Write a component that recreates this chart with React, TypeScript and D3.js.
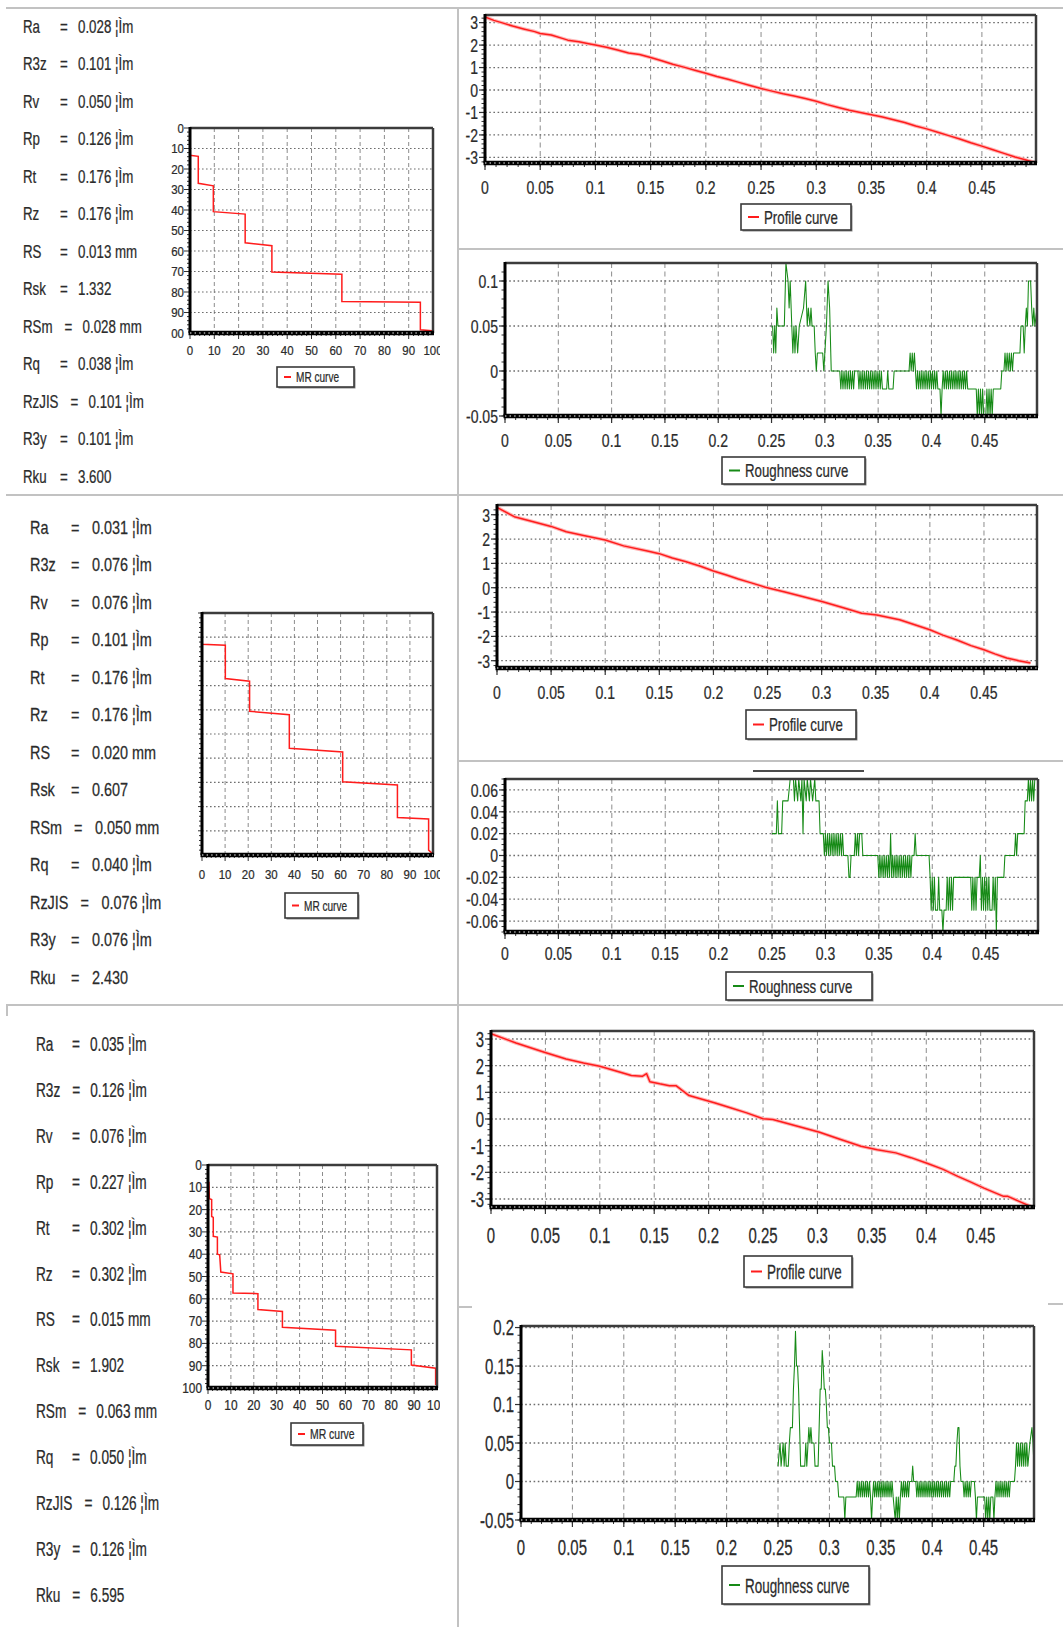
import * as d3 from "d3";

// Three roughness measurements: parameter table, MR curve, profile curve and
// roughness curve. Text is drawn condensed (the source image is stretched
// vertically), so every label goes through <Txt> with a horizontal scale.

const W = 1063;
const H = 1627;
const FONT = "'Liberation Sans', Arial, Helvetica, sans-serif";
const INK = "#2b2b2b";
const RULE = "#c2c2c2";
const RED = "#ff1c1c";
const GREEN = "#168a16";

const PARAM_NAMES = ["Ra", "R3z", "Rv", "Rp", "Rt", "Rz", "RS", "Rsk", "RSm", "Rq", "RzJIS", "R3y", "Rku"];
const PARAMS_1 = ["0.028 ¦Ìm", "0.101 ¦Ìm", "0.050 ¦Ìm", "0.126 ¦Ìm", "0.176 ¦Ìm", "0.176 ¦Ìm", "0.013 mm", "1.332", "0.028 mm", "0.038 ¦Ìm", "0.101 ¦Ìm", "0.101 ¦Ìm", "3.600"];
const PARAMS_2 = ["0.031 ¦Ìm", "0.076 ¦Ìm", "0.076 ¦Ìm", "0.101 ¦Ìm", "0.176 ¦Ìm", "0.176 ¦Ìm", "0.020 mm", "0.607", "0.050 mm", "0.040 ¦Ìm", "0.076 ¦Ìm", "0.076 ¦Ìm", "2.430"];
const PARAMS_3 = ["0.035 ¦Ìm", "0.126 ¦Ìm", "0.076 ¦Ìm", "0.227 ¦Ìm", "0.302 ¦Ìm", "0.302 ¦Ìm", "0.015 mm", "1.902", "0.063 mm", "0.050 ¦Ìm", "0.126 ¦Ìm", "0.126 ¦Ìm", "6.595"];

const X_TICKS = [0, 0.05, 0.1, 0.15, 0.2, 0.25, 0.3, 0.35, 0.4, 0.45];
const X_MAX = 0.499;
const PROFILE_TICKS = [3, 2, 1, 0, -1, -2, -3];
const ROUGH1_TICKS = [0.1, 0.05, 0, -0.05];
const ROUGH2_TICKS = [0.06, 0.04, 0.02, 0, -0.02, -0.04, -0.06];
const ROUGH3_TICKS = [0.2, 0.15, 0.1, 0.05, 0, -0.05];
const MR_TICKS = [0, 10, 20, 30, 40, 50, 60, 70, 80, 90, 100];

// MR curves: material ratio (%) vs depth (%)
const MR1_X = [0, 0, 3.4, 3.4, 9.6, 9.6, 22.7, 22.7, 33.7, 33.7, 62.5, 62.5, 94.8, 94.8, 99.6];
const MR1_Y = [0, 13.3, 13.8, 27, 28.2, 40.8, 42, 56, 57.4, 70.3, 71.3, 84.6, 85, 98.4, 98.9];
const MR2_X = [0, 0, 10.1, 10.1, 20.6, 20.6, 37.8, 37.8, 60.9, 60.9, 84.6, 84.6, 98.1, 98.1, 99.7];
const MR2_Y = [0, 12.9, 13.3, 27.1, 28.2, 40.6, 42, 55.9, 57.4, 69.7, 71.1, 84.5, 85.1, 98, 99.3];
const MR3_X = [0.4, 0.6, 1.6, 1.6, 2.3, 2.3, 4.1, 4.1, 5.1, 5.6, 10.9, 10.9, 21.8, 21.8, 32.5, 32.5, 55.7, 55.7, 88.8, 88.8, 99.4, 99.4];
const MR3_Y = [7.5, 15.1, 15.5, 23.1, 23.5, 32, 32.3, 40, 40.3, 48, 48.8, 57.4, 57.7, 64.8, 65.7, 72.8, 74.1, 81.3, 82.9, 89.7, 91.1, 98.6];

// Profile curves: [x mm, height]
const PROFILE1: [number, number][] = [
  [0, 3.25], [0.008, 3.1], [0.015, 3.0], [0.025, 2.85], [0.035, 2.72], [0.045, 2.6], [0.05, 2.52], [0.06, 2.45],
  [0.07, 2.3], [0.075, 2.22], [0.085, 2.15], [0.095, 2.05], [0.1, 2.0], [0.11, 1.9], [0.12, 1.78], [0.13, 1.65],
  [0.14, 1.58], [0.15, 1.45], [0.16, 1.3], [0.17, 1.15], [0.18, 1.02], [0.19, 0.88], [0.2, 0.75], [0.21, 0.6],
  [0.22, 0.48], [0.23, 0.34], [0.24, 0.2], [0.25, 0.07], [0.26, -0.05], [0.27, -0.17], [0.28, -0.27], [0.29, -0.38],
  [0.3, -0.5], [0.31, -0.65], [0.32, -0.78], [0.33, -0.9], [0.34, -1.0], [0.35, -1.1], [0.36, -1.2], [0.37, -1.32],
  [0.38, -1.45], [0.39, -1.6], [0.4, -1.73], [0.41, -1.88], [0.42, -2.03], [0.43, -2.18], [0.44, -2.35], [0.45, -2.5],
  [0.46, -2.66], [0.47, -2.82], [0.48, -2.98], [0.49, -3.12], [0.499, -3.25],
];
const PROFILE2: [number, number][] = [
  [0, 3.3], [0.016, 2.92], [0.03, 2.75], [0.05, 2.52], [0.064, 2.3], [0.08, 2.15], [0.1, 1.96], [0.117, 1.72],
  [0.14, 1.5], [0.15, 1.4], [0.162, 1.22], [0.174, 1.08], [0.188, 0.88], [0.2, 0.69], [0.212, 0.52], [0.223, 0.36],
  [0.235, 0.2], [0.248, 0.02], [0.266, -0.18], [0.284, -0.38], [0.301, -0.58], [0.32, -0.82], [0.337, -1.05],
  [0.351, -1.12], [0.372, -1.32], [0.386, -1.52], [0.4, -1.73], [0.412, -1.95], [0.425, -2.15], [0.438, -2.38],
  [0.45, -2.55], [0.46, -2.72], [0.471, -2.89], [0.482, -3.0], [0.493, -3.09],
];
const PROFILE3: [number, number][] = [
  [0, 3.2], [0.023, 2.85], [0.049, 2.5], [0.069, 2.25], [0.085, 2.1], [0.1, 1.98], [0.115, 1.8], [0.129, 1.63],
  [0.139, 1.6], [0.143, 1.7], [0.146, 1.4], [0.155, 1.32], [0.164, 1.25], [0.17, 1.25], [0.182, 0.88], [0.194, 0.74],
  [0.206, 0.6], [0.22, 0.42], [0.235, 0.23], [0.25, 0.01], [0.259, -0.02], [0.28, -0.25], [0.302, -0.5], [0.32, -0.75],
  [0.34, -1.02], [0.355, -1.15], [0.372, -1.27], [0.386, -1.45], [0.4, -1.65], [0.415, -1.88], [0.429, -2.15],
  [0.44, -2.35], [0.453, -2.59], [0.471, -2.9], [0.475, -2.9], [0.497, -3.3],
];

// Roughness curves: [x µm, height in 0.01 µm]
const ROUGH1: [number, number][] = [
  [250, 5], [251, 5], [252, 2], [253, 5], [254, 2], [255, 7], [256, 5], [262, 5], [263.5, 12], [265.5, 10], [266.5, 7],
  [267.5, 10], [269, 5], [270, 2], [271, 5], [272, 2], [273, 5], [274.5, 2], [276, 5], [280, 7], [282, 10], [283.5, 5],
  [284.5, 7], [286, 5], [287, 7], [288, 5], [290, 5], [291, 2], [292, 0], [293, 2], [298, 2], [299, 0], [300, 2],
  [301.5, 5], [303, 10], [304.5, 7], [306, 0], [314, 0], [315, -2], [316, 0], [317, -2], [318, 0], [319, -2], [320, 0],
  [321, -2], [322, 0], [323, -2], [324, 0], [325, -2], [326, 0], [327, -2], [328, 0], [331, 0], [332, -2], [333, 0],
  [334, -2], [335, 0], [336, -2], [337, 0], [338, -2], [339, 0], [340, -2], [341, 0], [342, -2], [343, 0], [344, -2],
  [345, 0], [346, -2], [347, 0], [348, -2], [349, 0], [350, -2], [351, 0], [352, -2], [353, 0], [354, -2], [358, -2],
  [359, 0], [360, -2], [364, -2], [365, 0], [379, 0], [380, 2], [381, 0], [382, 2], [383, 0], [384, 2], [385, 0],
  [386, -2], [387, 0], [388, -2], [389, 0], [390, -2], [391, 0], [392, -2], [393, 0], [394, -2], [395, 0], [396, -2],
  [397, 0], [398, -2], [399, 0], [400, -2], [401, 0], [402, -2], [403, 0], [404, -2], [405, 0], [406, -2], [408, -2],
  [409, -5], [410, -2], [411, 0], [412, -2], [413, 0], [414, -2], [415, 0], [416, -2], [417, 0], [418, -2], [419, 0],
  [420, -2], [421, 0], [422, -2], [423, 0], [424, -2], [425, 0], [426, -2], [427, 0], [428, -2], [429, 0], [430, -2],
  [431, 0], [432, -2], [433, 0], [434, -2], [442, -2], [443, -5], [444, -2], [445, -5], [446, -2], [447, -5], [448, -2],
  [449, -5], [451, -5], [452, -2], [453, -5], [454, -2], [455, -5], [456, -2], [457, -5], [458, -2], [465, -2], [466, 0],
  [468, 0], [469, 2], [470, 0], [471, 2], [472, 0], [473, 2], [474, 0], [475, 2], [476, 0], [477, 2], [483, 2], [484, 5],
  [486, 5], [487, 2], [488, 5], [489, 7], [490, 5], [491, 10], [493, 10], [494, 7], [495, 5], [496, 7], [497, 5], [499, 7],
];
const ROUGH2: [number, number][] = [
  [250, 2], [254, 2], [255, 5], [256, 2], [259, 2], [260, 5], [265, 5], [267, 7], [270, 7], [271, 5], [272, 7], [274, 5],
  [275, 7], [277, 5], [278, 7], [279, 2], [280, 7], [282, 5], [283, 7], [285, 5], [286, 7], [288, 5], [290, 7], [291, 5],
  [294, 5], [295, 2], [298, 2], [299, 0], [300, 2], [301, 0], [302, 2], [303, 0], [304, 2], [305, 0], [306, 2], [307, 0],
  [308, 2], [309, 0], [310, 2], [311, 0], [312, 2], [313, 0], [314, 2], [315, 0], [316, 2], [317, 0], [321, 0], [322, -2],
  [323, -2], [324, 0], [327, 0], [328, 2], [329, 0], [330, 2], [331, 0], [332, 2], [334, 2], [335, 0], [349, 0], [350, -2],
  [351, 0], [352, -2], [353, 0], [354, -2], [355, 0], [356, -2], [357, 0], [358, -2], [359, 0], [360, -2], [361, 2],
  [362, -2], [363, 0], [364, -2], [365, 0], [366, -2], [367, 0], [368, -2], [369, 0], [370, -2], [371, 0], [372, -2],
  [373, 0], [374, -2], [375, 0], [376, -2], [377, 0], [378, -2], [379, 0], [380, -2], [381, 0], [383, 0], [384, 2],
  [385, 0], [397, 0], [398, -2], [399, -5], [400, -2], [401, -5], [402, -2], [403, -5], [405, -5], [406, -2], [407, -5],
  [409, -5], [410, -7], [411, -5], [413, -5], [414, -2], [415, -5], [416, -2], [417, -5], [418, -2], [419, -5], [420, -2],
  [436, -2], [437, -5], [438, -2], [439, -5], [440, -2], [441, -5], [442, -2], [444, -2], [445, 0], [446, -5], [447, -2],
  [448, -5], [449, -2], [450, -5], [451, -2], [452, -5], [453, -2], [454, -5], [456, -5], [457, -2], [458, -5], [459, -2],
  [460, -7], [461, -2], [467, -2], [468, 0], [477, 0], [478, 2], [479, 0], [480, 2], [486, 2], [487, 5], [489, 5], [490, 7],
  [491, 5], [492, 7], [493, 5], [494, 7], [495, 5], [496, 7], [498, 7],
];
const ROUGH3: [number, number][] = [
  [250, 2], [252, 5], [253, 2], [255, 5], [256, 2], [257, 5], [258, 2], [260, 2], [261, 5], [262, 7], [264, 7], [265, 12],
  [266, 15], [267, 19.5], [268, 15], [269, 15], [270, 12], [271, 7], [272, 2], [276, 2], [277, 5], [278, 2], [280, 7],
  [281, 5], [282, 7], [283, 5], [285, 5], [286, 2], [289, 2], [290, 7], [291, 12], [292, 12], [293, 17], [294, 15],
  [295, 12], [296, 12], [297, 10], [298, 7], [299, 7], [300, 5], [302, 5], [303, 2], [305, 2], [306, 0], [308, 0],
  [309, -2], [314, -2], [315, -5], [316, -2], [326, -2], [327, 0], [328, -2], [329, 0], [330, -2], [331, 0], [332, -2],
  [333, 0], [334, -2], [335, 0], [336, -2], [337, 0], [338, -2], [339, 0], [340, -2], [341, -5], [342, -2], [343, 0],
  [344, -2], [345, 0], [346, -2], [347, 0], [348, -2], [349, 0], [350, -2], [351, 0], [352, -2], [353, 0], [354, -2],
  [355, 0], [356, -2], [357, 0], [358, -2], [359, 0], [360, -2], [361, 0], [362, -2], [364, -5], [365, -2], [366, -5],
  [367, -2], [368, -5], [369, -2], [370, 0], [371, -2], [372, 0], [373, -2], [374, 0], [375, -2], [376, 0], [377, -2],
  [378, 0], [380, 0], [381, 2], [382, 0], [384, 0], [385, -2], [386, 0], [387, -2], [388, 0], [389, -2], [390, 0],
  [391, -2], [392, 0], [393, -2], [394, 0], [395, -2], [396, 0], [397, -2], [398, 0], [399, -2], [400, 0], [401, -2],
  [402, 0], [403, -2], [404, 0], [405, -2], [406, 0], [407, -2], [408, 0], [409, -2], [410, 0], [411, -2], [412, 0],
  [413, -2], [414, 0], [415, -2], [416, 0], [417, -2], [418, 0], [421, 0], [422, 2], [423, 2], [424, 5], [425, 7],
  [426, 7], [427, 2], [428, 0], [430, 0], [431, -2], [432, 0], [433, -2], [434, 0], [435, -2], [436, 0], [437, -2],
  [438, 0], [441, 0], [442, -2], [443, -5], [444, -2], [451, -2], [452, -5], [453, -2], [454, -5], [455, -2], [456, -5],
  [457, -2], [459, -2], [460, -5], [461, -2], [462, 0], [463, -2], [464, 0], [465, -2], [466, 0], [467, -2], [468, 0],
  [469, -2], [470, 0], [471, -2], [472, 0], [473, -2], [474, 0], [475, -2], [476, 0], [480, 0], [481, 2], [482, 5],
  [483, 2], [484, 5], [485, 2], [486, 5], [487, 2], [488, 5], [489, 2], [490, 5], [491, 2], [492, 5], [493, 2], [495, 5],
  [497, 7], [498, 5], [499, 2],
];

type Box = { l: number; r: number; t: number; b: number };
type Rect4 = [number, number, number, number];

let measureCtx: CanvasRenderingContext2D | null = null;
function measure(s: string, size: number) {
  if (!measureCtx) measureCtx = document.createElement("canvas").getContext("2d");
  if (!measureCtx) return s.length * size * 0.55;
  measureCtx.font = `${size}px ${FONT}`;
  return measureCtx.measureText(s).width;
}

function Txt({ x, y, size, sx, anchor = "start", fill = INK, children }: {
  x: number; y: number; size: number; sx: number; anchor?: string; fill?: string; children: any;
}) {
  return (
    <text transform={`translate(${x},${y}) scale(${sx},1)`} fontSize={size} fontFamily={FONT}
      textAnchor={anchor as any} dy="0.36em" fill={fill} stroke={fill} strokeWidth={0.25}>
      {children}
    </text>
  );
}

function Legend({ r, color, label, fs, sx, pad = 23 }: {
  r: Rect4; color: string; label: string; fs: number; sx: number; pad?: number;
}) {
  const [l, t, rr, b] = r;
  const cy = (t + b) / 2;
  return (
    <g>
      <rect x={l + 1.5} y={t + 1.5} width={rr - l} height={b - t} fill="#8a8a8a" />
      <rect x={l} y={t} width={rr - l} height={b - t} fill="#fff" stroke="#3a3a3a" strokeWidth={1.6} />
      <line x1={l + 7} x2={l + pad - 5} y1={cy} y2={cy} stroke={color} strokeWidth={2} />
      <Txt x={l + pad} y={cy} size={fs} sx={sx}>{label}</Txt>
    </g>
  );
}

function Frame({ box }: { box: Box }) {
  return (
    <g>
      <line x1={box.l} x2={box.r} y1={box.t} y2={box.t} stroke="#3c3c3c" strokeWidth={2.5} />
      <line x1={box.r} x2={box.r} y1={box.t} y2={box.b} stroke="#3c3c3c" strokeWidth={2.5} />
      <line x1={box.l} x2={box.l} y1={box.t - 1} y2={box.b} stroke="#000" strokeWidth={3} />
      <line x1={box.l - 1.5} x2={box.r + 1} y1={box.b} y2={box.b} stroke="#000" strokeWidth={4.5} />
      <line x1={box.l} x2={box.r} y1={box.b} y2={box.b} stroke="#fff" strokeWidth={1.1} strokeDasharray="1.4,3.2" />
    </g>
  );
}

function SeriesChart(p: {
  id: string; box: Box; yDomain: [number, number]; yTicks: number[]; yMinor: number;
  data: [number, number][]; xDiv: number; yDiv: number; color: string; strokeW: number; halo?: string;
  legend: string; lg: Rect4; fs: number; sx: number; labelY: number; lgFs: number; lgSx: number;
}) {
  const { id, box, yDomain, yTicks, yMinor, data, xDiv, yDiv, color } = p;
  const x = d3.scaleLinear().domain([0, X_MAX]).range([box.l, box.r]);
  const y = d3.scaleLinear().domain(yDomain).range([box.b, box.t]);
  const path = d3.line<[number, number]>().x((d) => x(d[0] / xDiv)).y((d) => y(d[1] / yDiv))(data) ?? "";
  const minorX = d3.range(0, X_MAX, 0.01);
  const minorY = d3.range(Math.ceil(yDomain[0] / yMinor) * yMinor, yDomain[1], yMinor);
  return (
    <g>
      <clipPath id={id}>
        <rect x={box.l} y={box.t} width={box.r - box.l} height={box.b - box.t} />
      </clipPath>
      {X_TICKS.slice(1).map((v) => (
        <line key={v} x1={x(v)} x2={x(v)} y1={box.t} y2={box.b} stroke="#8c8c8c" strokeWidth={1} strokeDasharray="5,3.5" />
      ))}
      {yTicks.map((v) => (
        <line key={v} x1={box.l} x2={box.r} y1={y(v)} y2={y(v)} stroke="#6e6e6e" strokeWidth={1.3} strokeDasharray="1.6,2.6" />
      ))}
      {p.halo && (
        <path d={path} fill="none" stroke={p.halo} strokeWidth={3.6} strokeLinejoin="round" clipPath={`url(#${id})`} />
      )}
      <path d={path} fill="none" stroke={color} strokeWidth={p.strokeW} strokeLinejoin="round" clipPath={`url(#${id})`} />
      {minorX.map((v, i) => (
        <line key={i} x1={x(v)} x2={x(v)} y1={box.b} y2={box.b + 4} stroke="#333" strokeWidth={1} />
      ))}
      {X_TICKS.map((v) => (
        <line key={v} x1={x(v)} x2={x(v)} y1={box.b} y2={box.b + 7} stroke="#333" strokeWidth={1.2} />
      ))}
      {minorY.map((v, i) => (
        <line key={i} x1={box.l - 3.5} x2={box.l} y1={y(v)} y2={y(v)} stroke="#333" strokeWidth={1} />
      ))}
      {yTicks.map((v) => (
        <line key={v} x1={box.l - 6} x2={box.l} y1={y(v)} y2={y(v)} stroke="#333" strokeWidth={1.2} />
      ))}
      <Frame box={box} />
      {X_TICKS.map((v) => (
        <Txt key={v} x={x(v)} y={p.labelY} size={p.fs} sx={p.sx} anchor="middle">{String(v)}</Txt>
      ))}
      {yTicks.map((v) => (
        <Txt key={v} x={box.l - 7} y={y(v)} size={p.fs} sx={p.sx} anchor="end">{String(v)}</Txt>
      ))}
      <Legend r={p.lg} color={color} label={p.legend} fs={p.lgFs} sx={p.lgSx} />
    </g>
  );
}

function MRChart(p: {
  id: string; box: Box; xs: number[]; ys: number[]; showY: boolean; clipL: number;
  fs: number; sx: number; labelY: number; lg: Rect4; lgFs: number;
}) {
  const { id, box, xs, ys } = p;
  const x = d3.scaleLinear().domain([0, 100]).range([box.l, box.r]);
  const y = d3.scaleLinear().domain([0, 100]).range([box.t, box.b]);
  const path = d3.line<number>().x((v) => x(v)).y((_, i) => y(ys[i]))(xs) ?? "";
  const minor = d3.range(0, 100, 2);
  const inner = MR_TICKS.slice(1, -1);
  return (
    <g>
      <clipPath id={id}>
        <rect x={p.clipL} y={0} width={440 - p.clipL} height={H} />
      </clipPath>
      <g clipPath={`url(#${id})`}>
        {inner.map((v) => (
          <line key={v} x1={x(v)} x2={x(v)} y1={box.t} y2={box.b} stroke="#8c8c8c" strokeWidth={1} strokeDasharray="4,3" />
        ))}
        {inner.map((v) => (
          <line key={v} x1={box.l} x2={box.r} y1={y(v)} y2={y(v)} stroke="#6e6e6e" strokeWidth={1.2} strokeDasharray="1.6,2.4" />
        ))}
        <path d={path} fill="none" stroke={RED} strokeWidth={1.5} />
        {minor.map((v) => (
          <line key={"bx" + v} x1={x(v)} x2={x(v)} y1={box.b} y2={box.b + (v % 10 === 0 ? 6 : 3)} stroke="#333" strokeWidth={1} />
        ))}
        {minor.map((v) => (
          <line key={"ly" + v} x1={box.l - (v % 10 === 0 ? 6 : 3)} x2={box.l} y1={y(v)} y2={y(v)} stroke="#333" strokeWidth={1} />
        ))}
        <Frame box={box} />
        {MR_TICKS.map((v) => (
          <Txt key={"x" + v} x={x(v)} y={p.labelY} size={p.fs} sx={p.sx} anchor="middle">{String(v)}</Txt>
        ))}
        {p.showY &&
          MR_TICKS.map((v) => (
            <Txt key={"y" + v} x={box.l - 6} y={y(v)} size={p.fs} sx={p.sx} anchor="end">{String(v)}</Txt>
          ))}
        <Legend r={p.lg} color={RED} label="MR curve" fs={p.lgFs} sx={0.72} pad={19} />
      </g>
    </g>
  );
}

function ParamBlock({ values, x, top, step, size, sx, eqMin, valGap }: {
  values: string[]; x: number; top: number; step: number; size: number; sx: number; eqMin: number; valGap: number;
}) {
  return (
    <g>
      {values.map((v, i) => {
        const name = PARAM_NAMES[i];
        const cy = top + i * step;
        const eqX = Math.max(x + eqMin, x + measure(name, size) * sx + 12);
        return (
          <g key={name}>
            <Txt x={x} y={cy} size={size} sx={sx}>{name}</Txt>
            <Txt x={eqX} y={cy} size={size} sx={sx}>=</Txt>
            <Txt x={eqX + valGap} y={cy} size={size} sx={sx}>{v}</Txt>
          </g>
        );
      })}
    </g>
  );
}

export default function App() {
  return (
    <div style={{ position: "absolute", left: 0, top: 0, width: W, height: H, background: "#fff" }}>
      <svg width={W} height={H} viewBox={`0 0 ${W} ${H}`} style={{ display: "block" }}>
        <rect width={W} height={H} fill="#fff" />

        {/* table rules */}
        <g stroke={RULE} strokeWidth={2}>
          <line x1={6} x2={W} y1={8} y2={8} />
          <line x1={458} x2={458} y1={8} y2={H} />
          <line x1={6} x2={W} y1={495} y2={495} />
          <line x1={458} x2={W} y1={249} y2={249} />
          <line x1={458} x2={W} y1={761} y2={761} />
          <line x1={6} x2={W} y1={1005} y2={1005} />
          <line x1={7} x2={7} y1={1005} y2={1016} />
          <line x1={458} x2={472} y1={1307} y2={1307} />
          <line x1={1048} x2={W} y1={1304} y2={1304} />
        </g>
        <line x1={753} x2={864} y1={771} y2={771} stroke="#111" strokeWidth={1.6} />

        {/* measurement 1 */}
        <ParamBlock values={PARAMS_1} x={23} top={26} step={37.5} size={18.5} sx={0.72} eqMin={37} valGap={18} />
        <MRChart id="mr1" box={{ l: 190, r: 433, t: 128, b: 333 }} xs={MR1_X} ys={MR1_Y} showY clipL={171}
          fs={13.5} sx={0.85} labelY={350} lg={[277, 367, 354, 387]} lgFs={14} />
        <SeriesChart id="p1" box={{ l: 485, r: 1036, t: 15, b: 163 }} yDomain={[-3.25, 3.34]} yTicks={PROFILE_TICKS}
          yMinor={0.2} data={PROFILE1} xDiv={1} yDiv={1} color={RED} halo="#ffb4b4" strokeW={1.5} legend="Profile curve"
          lg={[741, 204, 851, 230]} fs={19} sx={0.74} labelY={187} lgFs={19} lgSx={0.7} />
        <SeriesChart id="r1" box={{ l: 505, r: 1037, t: 263, b: 416 }} yDomain={[-0.05, 0.12]} yTicks={ROUGH1_TICKS}
          yMinor={0.01} data={ROUGH1} xDiv={1000} yDiv={100} color={GREEN} strokeW={1.05} legend="Roughness curve"
          lg={[722, 457, 865, 484]} fs={19} sx={0.74} labelY={440} lgFs={19} lgSx={0.7} />

        {/* measurement 2 */}
        <ParamBlock values={PARAMS_2} x={30} top={527} step={37.5} size={18.5} sx={0.78} eqMin={41} valGap={21} />
        <MRChart id="mr2" box={{ l: 202, r: 433, t: 613, b: 855 }} xs={MR2_X} ys={MR2_Y} showY={false} clipL={198}
          fs={13.5} sx={0.85} labelY={874} lg={[285, 893, 358, 918]} lgFs={14} />
        <SeriesChart id="p2" box={{ l: 497, r: 1037, t: 505, b: 668 }} yDomain={[-3.3, 3.4]} yTicks={PROFILE_TICKS}
          yMinor={0.2} data={PROFILE2} xDiv={1} yDiv={1} color={RED} halo="#ffb4b4" strokeW={1.5} legend="Profile curve"
          lg={[746, 710, 856, 739]} fs={19} sx={0.74} labelY={692} lgFs={19} lgSx={0.7} />
        <SeriesChart id="r2" box={{ l: 505, r: 1038, t: 779, b: 932 }} yDomain={[-0.07, 0.07]} yTicks={ROUGH2_TICKS}
          yMinor={0.005} data={ROUGH2} xDiv={1000} yDiv={100} color={GREEN} strokeW={1.05} legend="Roughness curve"
          lg={[726, 972, 872, 1000]} fs={19} sx={0.74} labelY={953} lgFs={19} lgSx={0.7} />

        {/* measurement 3 */}
        <ParamBlock values={PARAMS_3} x={36} top={1044} step={45.9} size={19.5} sx={0.7} eqMin={36} valGap={18} />
        <MRChart id="mr3" box={{ l: 208, r: 437, t: 1165, b: 1388 }} xs={MR3_X} ys={MR3_Y} showY clipL={175}
          fs={14} sx={0.85} labelY={1405} lg={[291, 1423, 363, 1445]} lgFs={14.5} />
        <SeriesChart id="p3" box={{ l: 491, r: 1034, t: 1031, b: 1207 }} yDomain={[-3.3, 3.3]} yTicks={PROFILE_TICKS}
          yMinor={0.2} data={PROFILE3} xDiv={1} yDiv={1} color={RED} halo="#ffb4b4" strokeW={1.5} legend="Profile curve"
          lg={[744, 1256, 852, 1287]} fs={22} sx={0.68} labelY={1235} lgFs={21} lgSx={0.64} />
        <SeriesChart id="r3" box={{ l: 521, r: 1034, t: 1326, b: 1520 }} yDomain={[-0.05, 0.202]} yTicks={ROUGH3_TICKS}
          yMinor={0.01} data={ROUGH3} xDiv={1000} yDiv={100} color={GREEN} strokeW={1.05} legend="Roughness curve"
          lg={[722, 1566, 869, 1604]} fs={22} sx={0.68} labelY={1547} lgFs={21} lgSx={0.64} />
      </svg>
    </div>
  );
}
